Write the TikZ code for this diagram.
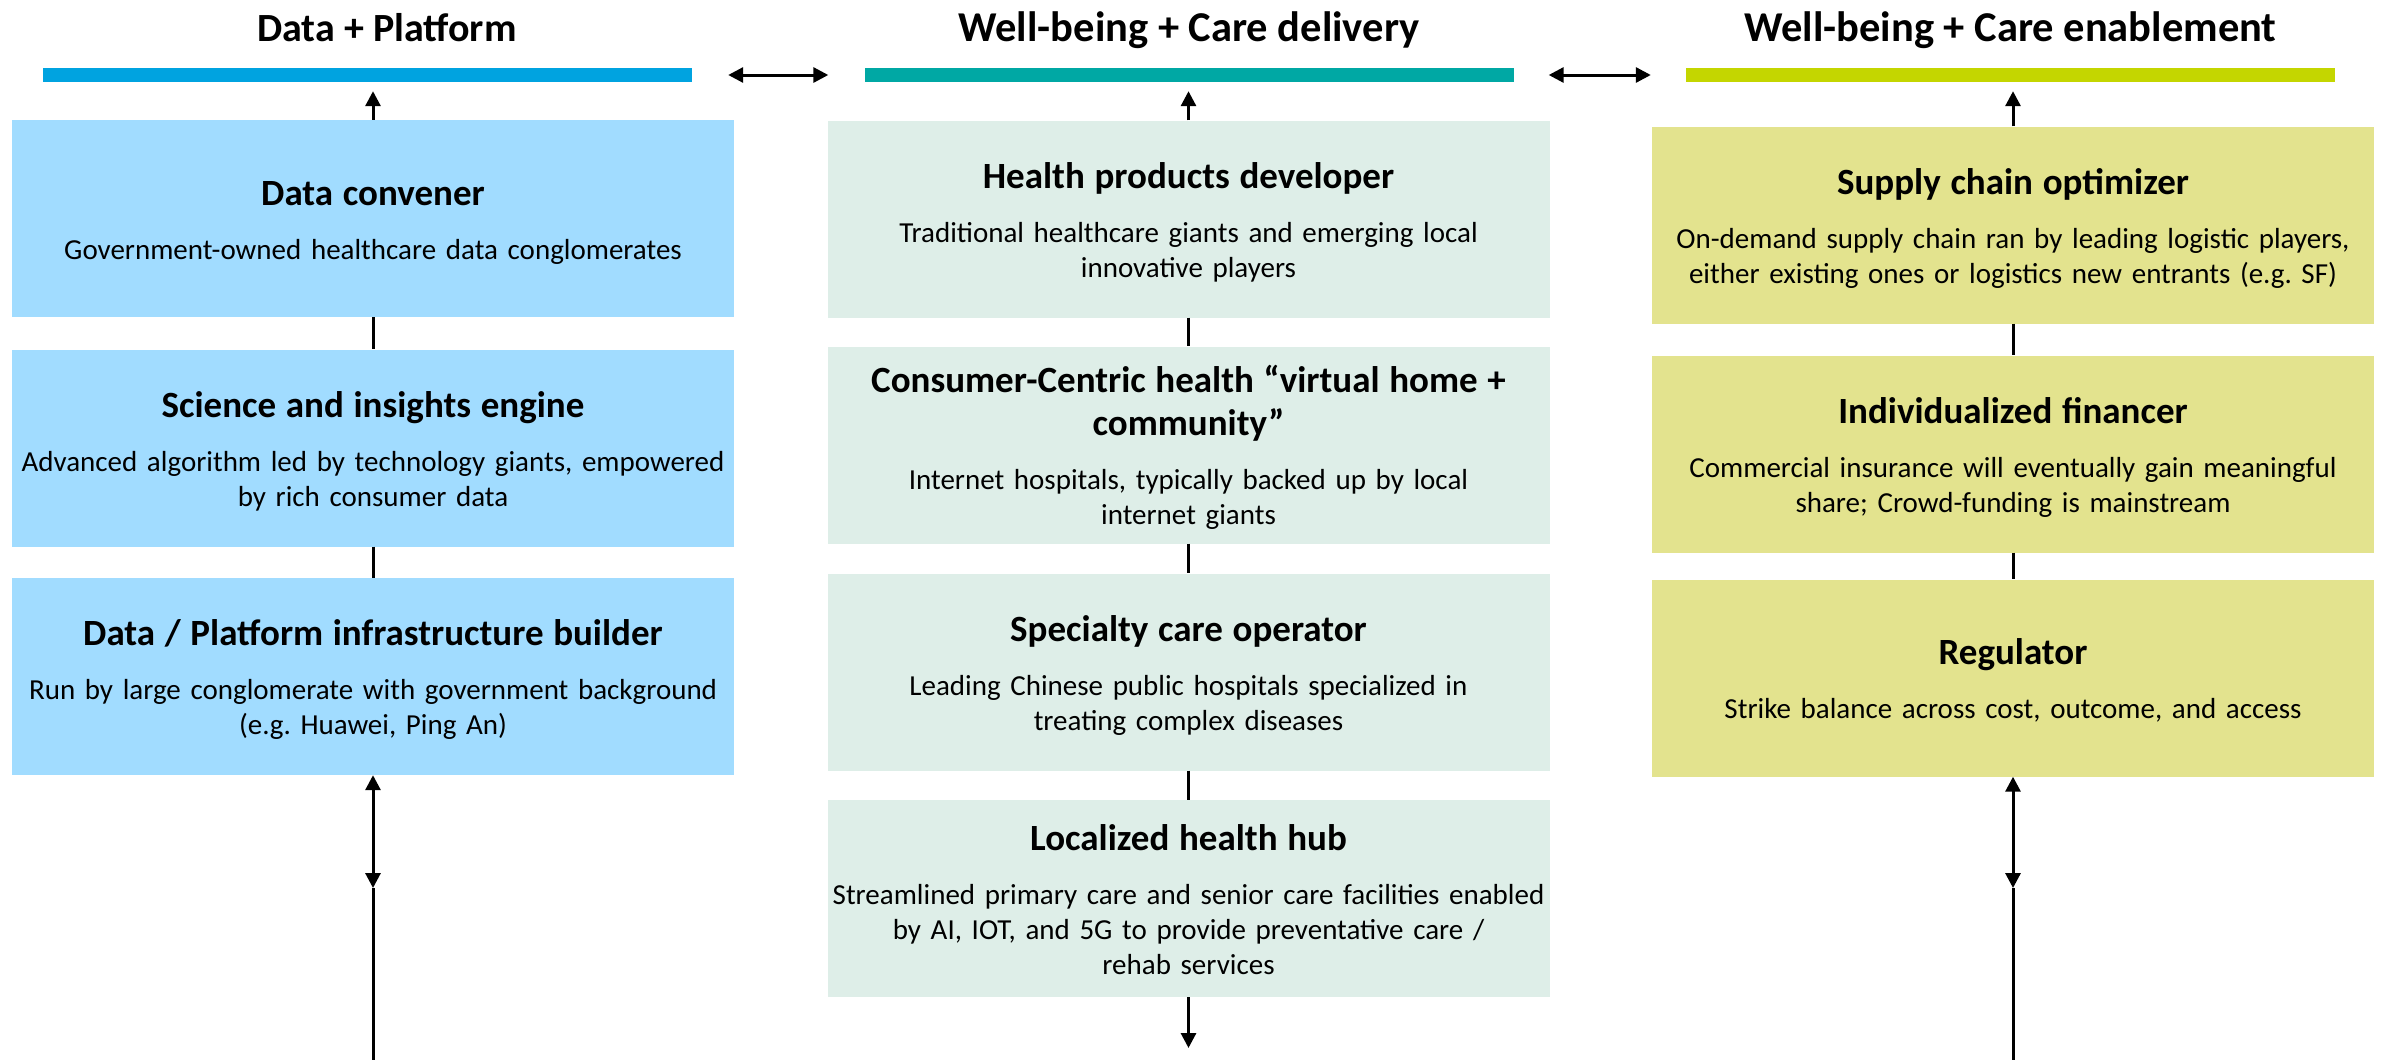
\documentclass[tikz,border=0pt]{standalone}
\usepackage{fontspec}
\setmainfont{Carlito}
\usetikzlibrary{arrows.meta}
\setlength{\parindent}{0pt}
\definecolor{platformbar}{RGB}{0,163,224}
\definecolor{deliverybar}{RGB}{0,168,164}
\definecolor{enablebar}{RGB}{196,214,0}
\definecolor{platformfill}{RGB}{161,220,255}
\definecolor{deliveryfill}{RGB}{222,238,232}
\definecolor{enablefill}{RGB}{227,227,142}
\newcommand{\descfont}{\fontsize{29}{35}\selectfont\frenchspacing}
\newcommand{\ttlfont}{\fontsize{37}{43}\selectfont\bfseries}
\newcommand{\headfont}[1]{\fontsize{#1}{50}\selectfont\bfseries}
\newcommand{\role}[2]{{\ttlfont\rule{0pt}{34pt}#1\par}\vspace{19pt}#2\rule[-7pt]{0pt}{7pt}}

\begin{document}
\begin{tikzpicture}[x=1pt, y=-1pt,
	colbox/.style = {minimum width=722pt, minimum height=197pt, inner sep=0pt, text width=716pt, align=center, font=\descfont},
	topbar/.style = {minimum width=649pt, minimum height=14pt, inner sep=0pt},
	head/.style = {anchor=base, font=\headfont{42.5}},
	link/.style = {line width=3pt},
	arr/.style = {link, -{Triangle[length=15pt, width=15pt]}},
	darr/.style = {link, {Triangle[length=15pt, width=15pt]}-{Triangle[length=15pt, width=15pt]}}]
	\path[use as bounding box, fill=white] (0, 0) rectangle (2382, 1060);

	% headers and bars
	\node[topbar, fill=platformbar] (bar1) at (367.5, 75) {};
	\node[topbar, fill=deliverybar] (bar2) at (1189, 75) {};
	\node[topbar, fill=enablebar] (bar3) at (2010.5, 75) {};
	\node[head, font=\headfont{40}] (head1) at (387, 41) {Data + Platform};
	\node[head] (head2) at (1189, 41) {Well-being + Care delivery};
	\node[head] (head3) at (2010.5, 41) {Well-being + Care enablement};
	\draw[darr, shorten <=36pt, shorten >=36pt] (bar1.east) -- (bar2.west);
	\draw[darr, shorten <=35pt, shorten >=35pt] (bar2.east) -- (bar3.west);

	% data + platform
	\node[colbox, fill=platformfill] (p1) at (373, 218.5) {\role{Data convener}{Government-owned healthcare data conglomerates}};
	\node[colbox, fill=platformfill] (p2) at (373, 448) {\role{Science and insights engine}{Advanced algorithm led by technology giants, empowered\\ by rich consumer data}};
	\node[colbox, fill=platformfill] (p3) at (373, 676.5) {\role{Data / Platform infrastructure builder}{Run by large conglomerate with government background\\ (e.g. Huawei, Ping An)}};

	% care delivery
	\node[colbox, fill=deliveryfill] (d1) at (1188.5, 219) {\role{Health products developer}{Traditional healthcare giants and emerging local\\ innovative players}};
	\node[colbox, fill=deliveryfill] (d2) at (1188.5, 445) {\role{Consumer-Centric health “virtual home +\\ community”}{Internet hospitals, typically backed up by local\\ internet giants}};
	\node[colbox, fill=deliveryfill] (d3) at (1188.5, 672) {\role{Specialty care operator}{Leading Chinese public hospitals specialized in\\ treating complex diseases}};
	\node[colbox, fill=deliveryfill] (d4) at (1188.5, 898.5) {\role{Localized health hub}{Streamlined primary care and senior care facilities enabled\\ by AI, IOT, and 5G to provide preventative care /\\ rehab services}};

	% care enablement
	\node[colbox, fill=enablefill] (e1) at (2013, 225) {\role{Supply chain optimizer}{On-demand supply chain ran by leading logistic players,\\ either existing ones or logistics new entrants (e.g. SF)}};
	\node[colbox, fill=enablefill] (e2) at (2013, 454) {\role{Individualized financer}{Commercial insurance will eventually gain meaningful\\ share; Crowd-funding is mainstream}};
	\node[colbox, fill=enablefill] (e3) at (2013, 678) {\role{Regulator}{Strike balance across cost, outcome, and access}};

	% connectors
	\draw[arr, shorten >=9pt] (p1.north) -- (p1.north |- bar1.south);
	\draw[arr, shorten >=9pt] (d1.north) -- (d1.north |- bar2.south);
	\draw[arr, shorten >=9pt] (e1.north) -- (e1.north |- bar3.south);
	\draw[link] (p1) -- (p2) (p2) -- (p3);
	\draw[link] (d1) -- (d2) (d2) -- (d3) (d3) -- (d4);
	\draw[link] (e1) -- (e2) (e2) -- (e3);

	\coordinate (pmid) at (373, 888);
	\coordinate (pend) at (373, 1060);
	\coordinate (dend) at (1188.5, 1048);
	\coordinate (emid) at (2013, 888);
	\coordinate (eend) at (2013, 1060);
	\draw[darr] (p3.south) -- (pmid);
	\draw[link] (pmid) -- (pend);
	\draw[arr] (d4.south) -- (dend);
	\draw[darr] (e3.south) -- (emid);
	\draw[link] (emid) -- (eend);
\end{tikzpicture}
\end{document}
